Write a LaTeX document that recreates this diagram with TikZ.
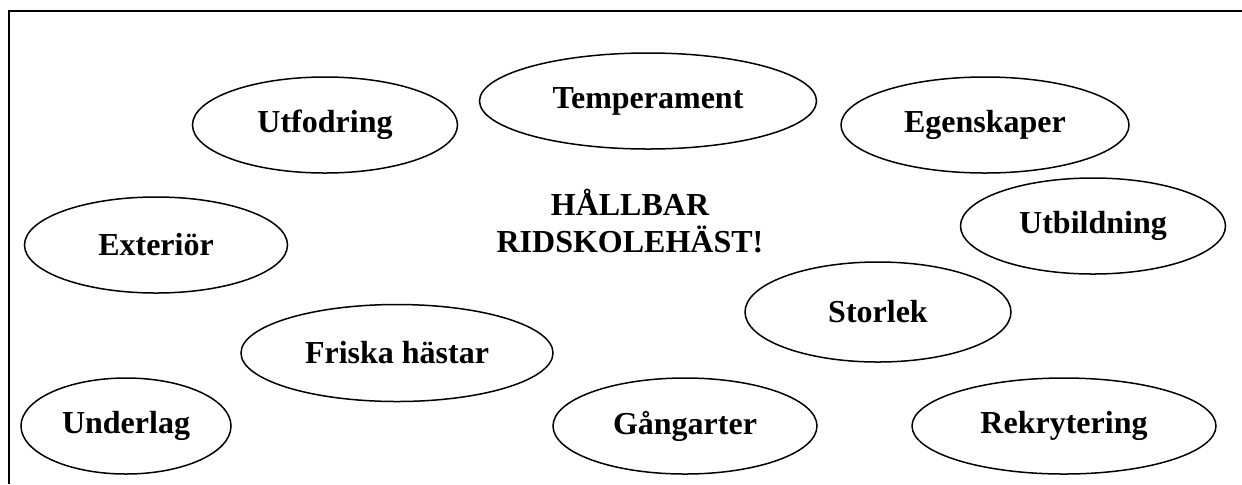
\documentclass[tikz,border=0pt]{standalone}
\usepackage{fontspec}
\setmainfont{Liberation Serif}
\usetikzlibrary{shapes.geometric}
\tikzset{
  bubble/.style={draw, line width=0.75pt, ellipse, inner sep=0pt,
    font=\fontsize{16}{18.5}\selectfont\bfseries},
  title/.style={align=center, font=\fontsize{16}{18.5}\selectfont\bfseries}
}
\begin{document}
\begin{tikzpicture}[x=0.5pt,y=-0.5pt]
  \useasboundingbox (0,0) rectangle (1242,484);
  \draw[line width=1pt] (9,484) -- (9,10.5) -- (1242,10.5);

  \node[title] (hast) at (630,221) {HÅLLBAR\\RIDSKOLEHÄST!};

  \node[bubble, minimum width=265pt/2, minimum height=96pt/2] (utfodring) at (325,125) {Utfodring};
  \node[bubble, minimum width=337pt/2, minimum height=96pt/2] (temperament) at (648,101) {Temperament};
  \node[bubble, minimum width=288pt/2, minimum height=96pt/2] (egenskaper) at (985,125) {Egenskaper};
  \node[bubble, minimum width=263pt/2, minimum height=96pt/2] (exterior) at (156,245) {Exteriör};
  \node[bubble, minimum width=265pt/2, minimum height=96pt/2] (utbildning) at (1093,226) {Utbildning};
  \node[bubble, minimum width=266pt/2, minimum height=100pt/2] (storlek) at (878,312) {Storlek};
  \node[bubble, minimum width=312pt/2, minimum height=97pt/2] (friska) at (397,353) {Friska hästar};
  \node[bubble, minimum width=210pt/2, minimum height=96pt/2] (underlag) at (126,426) {Underlag};
  \node[bubble, minimum width=264pt/2, minimum height=96pt/2] (gangarter) at (685,426) {Gångarter};
  \node[bubble, minimum width=304pt/2, minimum height=96pt/2] (rekrytering) at (1064,426) {Rekrytering};
\end{tikzpicture}
\end{document}
